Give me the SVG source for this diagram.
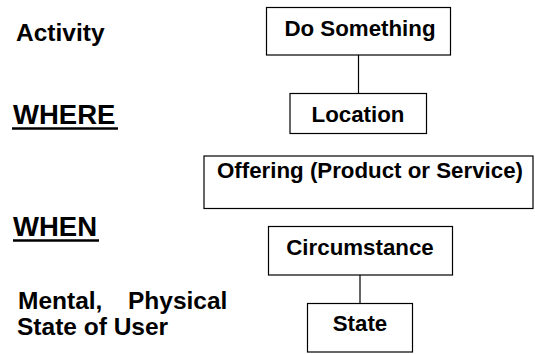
<svg xmlns="http://www.w3.org/2000/svg" width="535" height="354" viewBox="0 0 535 354">
  <style>
    .box { fill: #ffffff; stroke: #000000; stroke-width: 1.2; }
    .lbl { font-family: "Liberation Sans", Arial, sans-serif; font-weight: bold; font-size: 22.3px; fill: #000000; text-anchor: middle; }
    .side { font-family: "Liberation Sans", Arial, sans-serif; font-weight: bold; font-size: 24.5px; fill: #000000; }
    .head { font-family: "Liberation Sans", Arial, sans-serif; font-weight: bold; font-size: 27.5px; fill: #000000; }
    .rule { stroke: #000000; stroke-width: 2.5; }
    .link { stroke: #000000; stroke-width: 1.2; fill: none; }
  </style>
  <rect width="535" height="354" fill="#ffffff"/>

  <!-- left-hand captions -->
  <g id="captions">
    <text class="side" x="16" y="41">Activity</text>
    <text class="head" x="13" y="123.5">WHERE</text>
    <line class="rule" x1="12" y1="128.5" x2="118" y2="128.5"/>
    <text class="head" x="13" y="236">WHEN</text>
    <line class="rule" x1="13" y1="240.5" x2="99" y2="240.5"/>
    <text class="side" x="18" y="309">Mental,</text>
    <text class="side" x="128" y="309">Physical</text>
    <text class="side" x="17" y="335">State of User</text>
  </g>

  <!-- connectors -->
  <g id="connectors">
    <line class="link" x1="358.5" y1="55" x2="358.5" y2="93.5"/>
    <line class="link" x1="360" y1="275" x2="360" y2="303.5"/>
  </g>

  <g id="do-something">
    <rect class="box" x="266.5" y="7.5" width="184" height="47.5"/>
    <text class="lbl" x="360" y="36">Do Something</text>
  </g>

  <g id="location">
    <rect class="box" x="290" y="93.5" width="136.5" height="40"/>
    <text class="lbl" x="358" y="121.5">Location</text>
  </g>

  <g id="offering">
    <rect class="box" x="204" y="156" width="329" height="52.5"/>
    <text class="lbl" x="370" y="178">Offering (Product or Service)</text>
  </g>

  <g id="circumstance">
    <rect class="box" x="268.5" y="226.5" width="184" height="48.5"/>
    <text class="lbl" x="360" y="255">Circumstance</text>
  </g>

  <g id="state">
    <rect class="box" x="307.5" y="303.5" width="105" height="48.5"/>
    <text class="lbl" x="360" y="330.5">State</text>
  </g>
</svg>
